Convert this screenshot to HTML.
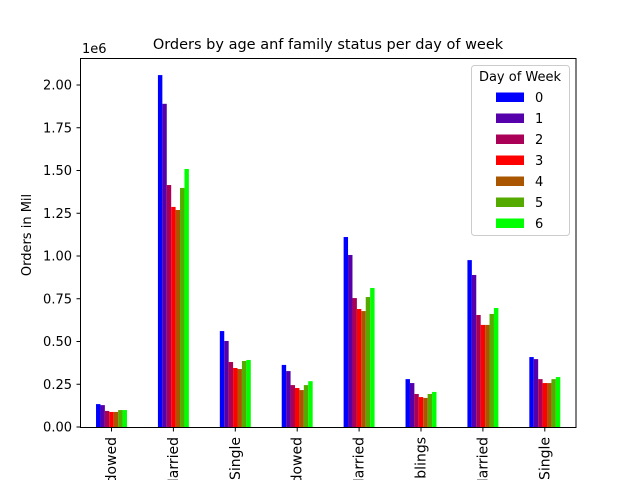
<!DOCTYPE html>
<html><head><meta charset="utf-8"><style>
html,body{margin:0;background:#fff;font-family:"Liberation Sans",sans-serif;width:640px;height:480px;overflow:hidden;}
svg{display:block;overflow:hidden;}
svg text{font-family:"DejaVu Sans","Liberation Sans",sans-serif;}
</style></head><body>
<svg id="chart" width="640" height="480" xmlns="http://www.w3.org/2000/svg">
<rect width="640" height="480" fill="#fff"/>
<text x="328" y="49" font-size="14.5" text-anchor="middle">Orders by age anf family status per day of week</text>
<text x="82" y="53" font-size="13">1e6</text>
<text transform="translate(31,235) rotate(-90)" font-size="13" text-anchor="middle">Orders in Mil</text>
<g id="bars"></g>
<g id="yticks"></g>
<g id="xticks"></g>
<rect x="80.5" y="58.5" width="495.5" height="369" fill="none" stroke="#000" stroke-width="1"/>
<g id="legend"></g>
</svg>
<script>
const categories=["Widowed","Married","Single","Widowed","Married","Siblings","Married","Single"];
const seriesNames=["0","1","2","3","4","5","6"];
const seriesColors=["#0000ff","#5500aa","#aa0055","#ff0000","#aa5500","#55aa00","#00ff00"];
const day0=[0.134,2.058,0.561,0.363,1.111,0.280,0.976,0.409];
const day1=[0.128,1.890,0.503,0.327,1.006,0.257,0.889,0.397];
const day2=[0.094,1.415,0.380,0.245,0.754,0.193,0.655,0.280];
const day3=[0.088,1.287,0.345,0.228,0.690,0.175,0.597,0.257];
const day4=[0.088,1.269,0.339,0.216,0.678,0.170,0.597,0.257];
const day5=[0.099,1.398,0.386,0.245,0.760,0.193,0.661,0.280];
const day6=[0.099,1.509,0.392,0.268,0.813,0.205,0.696,0.292];
const yTicks=[0,0.25,0.5,0.75,1.0,1.25,1.5,1.75,2.0];
const yTickLabels=["0.00","0.25","0.50","0.75","1.00","1.25","1.50","1.75","2.00"];
const series=[day0,day1,day2,day3,day4,day5,day6];
const NS="http://www.w3.org/2000/svg";
const x0=111.5,step=61.9,base=427,pxPer=171;
const xc=i=>x0+i*step;
const yv=v=>base-v*pxPer;
const bw=step*0.5/7;
const bars=document.getElementById('bars');
series.forEach((s,k)=>{s.forEach((v,i)=>{
 const r=document.createElementNS(NS,'rect');
 const x=xc(i)-step*0.25+k*bw;
 r.setAttribute('x',x);r.setAttribute('y',yv(v));r.setAttribute('width',bw);r.setAttribute('height',base-yv(v));
 r.setAttribute('fill',seriesColors[k]);
 
 
 bars.appendChild(r);});});
const yt=document.getElementById('yticks');
yTicks.forEach((t,i)=>{
 const l=document.createElementNS(NS,'line');
 l.setAttribute('x1',76.5);l.setAttribute('x2',80.5);l.setAttribute('y1',yv(t));l.setAttribute('y2',yv(t));l.setAttribute('stroke','#000');
 
 
 yt.appendChild(l);
 const tx=document.createElementNS(NS,'text');
 tx.setAttribute('x',72);tx.setAttribute('y',yv(t)+4.5);tx.setAttribute('text-anchor','end');tx.setAttribute('font-size','13');
 tx.textContent=yTickLabels[i];
 
 
 yt.appendChild(tx);});
const xt=document.getElementById('xticks');
categories.forEach((c,i)=>{
 const l=document.createElementNS(NS,'line');
 l.setAttribute('x1',xc(i));l.setAttribute('x2',xc(i));l.setAttribute('y1',427.5);l.setAttribute('y2',431.5);l.setAttribute('stroke','#000');
 
 
 xt.appendChild(l);
 const tx=document.createElementNS(NS,'text');
 tx.setAttribute('transform','translate('+(xc(i)+4.5)+',437) rotate(-90)');
 tx.setAttribute('text-anchor','end');tx.setAttribute('font-size','14');
 tx.textContent=c;
 
 
 xt.appendChild(tx);});
const lg=document.getElementById('legend');
const box=document.createElementNS(NS,'rect');
box.setAttribute('x',471.5);box.setAttribute('y',65.5);box.setAttribute('width',98);box.setAttribute('height',170);box.setAttribute('rx',3);
box.setAttribute('fill','#fff');box.setAttribute('fill-opacity','0.8');box.setAttribute('stroke','#ccc');


lg.appendChild(box);
const lt=document.createElementNS(NS,'text');
lt.setAttribute('x',520);lt.setAttribute('y',81);lt.setAttribute('text-anchor','middle');lt.setAttribute('font-size','13');
lt.textContent='Day of Week';


lg.appendChild(lt);
seriesNames.forEach((n,k)=>{
 const y=97+k*21;
 const p=document.createElementNS(NS,'rect');
 p.setAttribute('x',496);p.setAttribute('y',y-4.5);p.setAttribute('width',28);p.setAttribute('height',9.5);p.setAttribute('fill',seriesColors[k]);
 
 
 lg.appendChild(p);
 const t=document.createElementNS(NS,'text');
 t.setAttribute('x',535);t.setAttribute('y',y+5);t.setAttribute('font-size','13');t.textContent=n;
 
 
 lg.appendChild(t);});
</script>
</body></html>
